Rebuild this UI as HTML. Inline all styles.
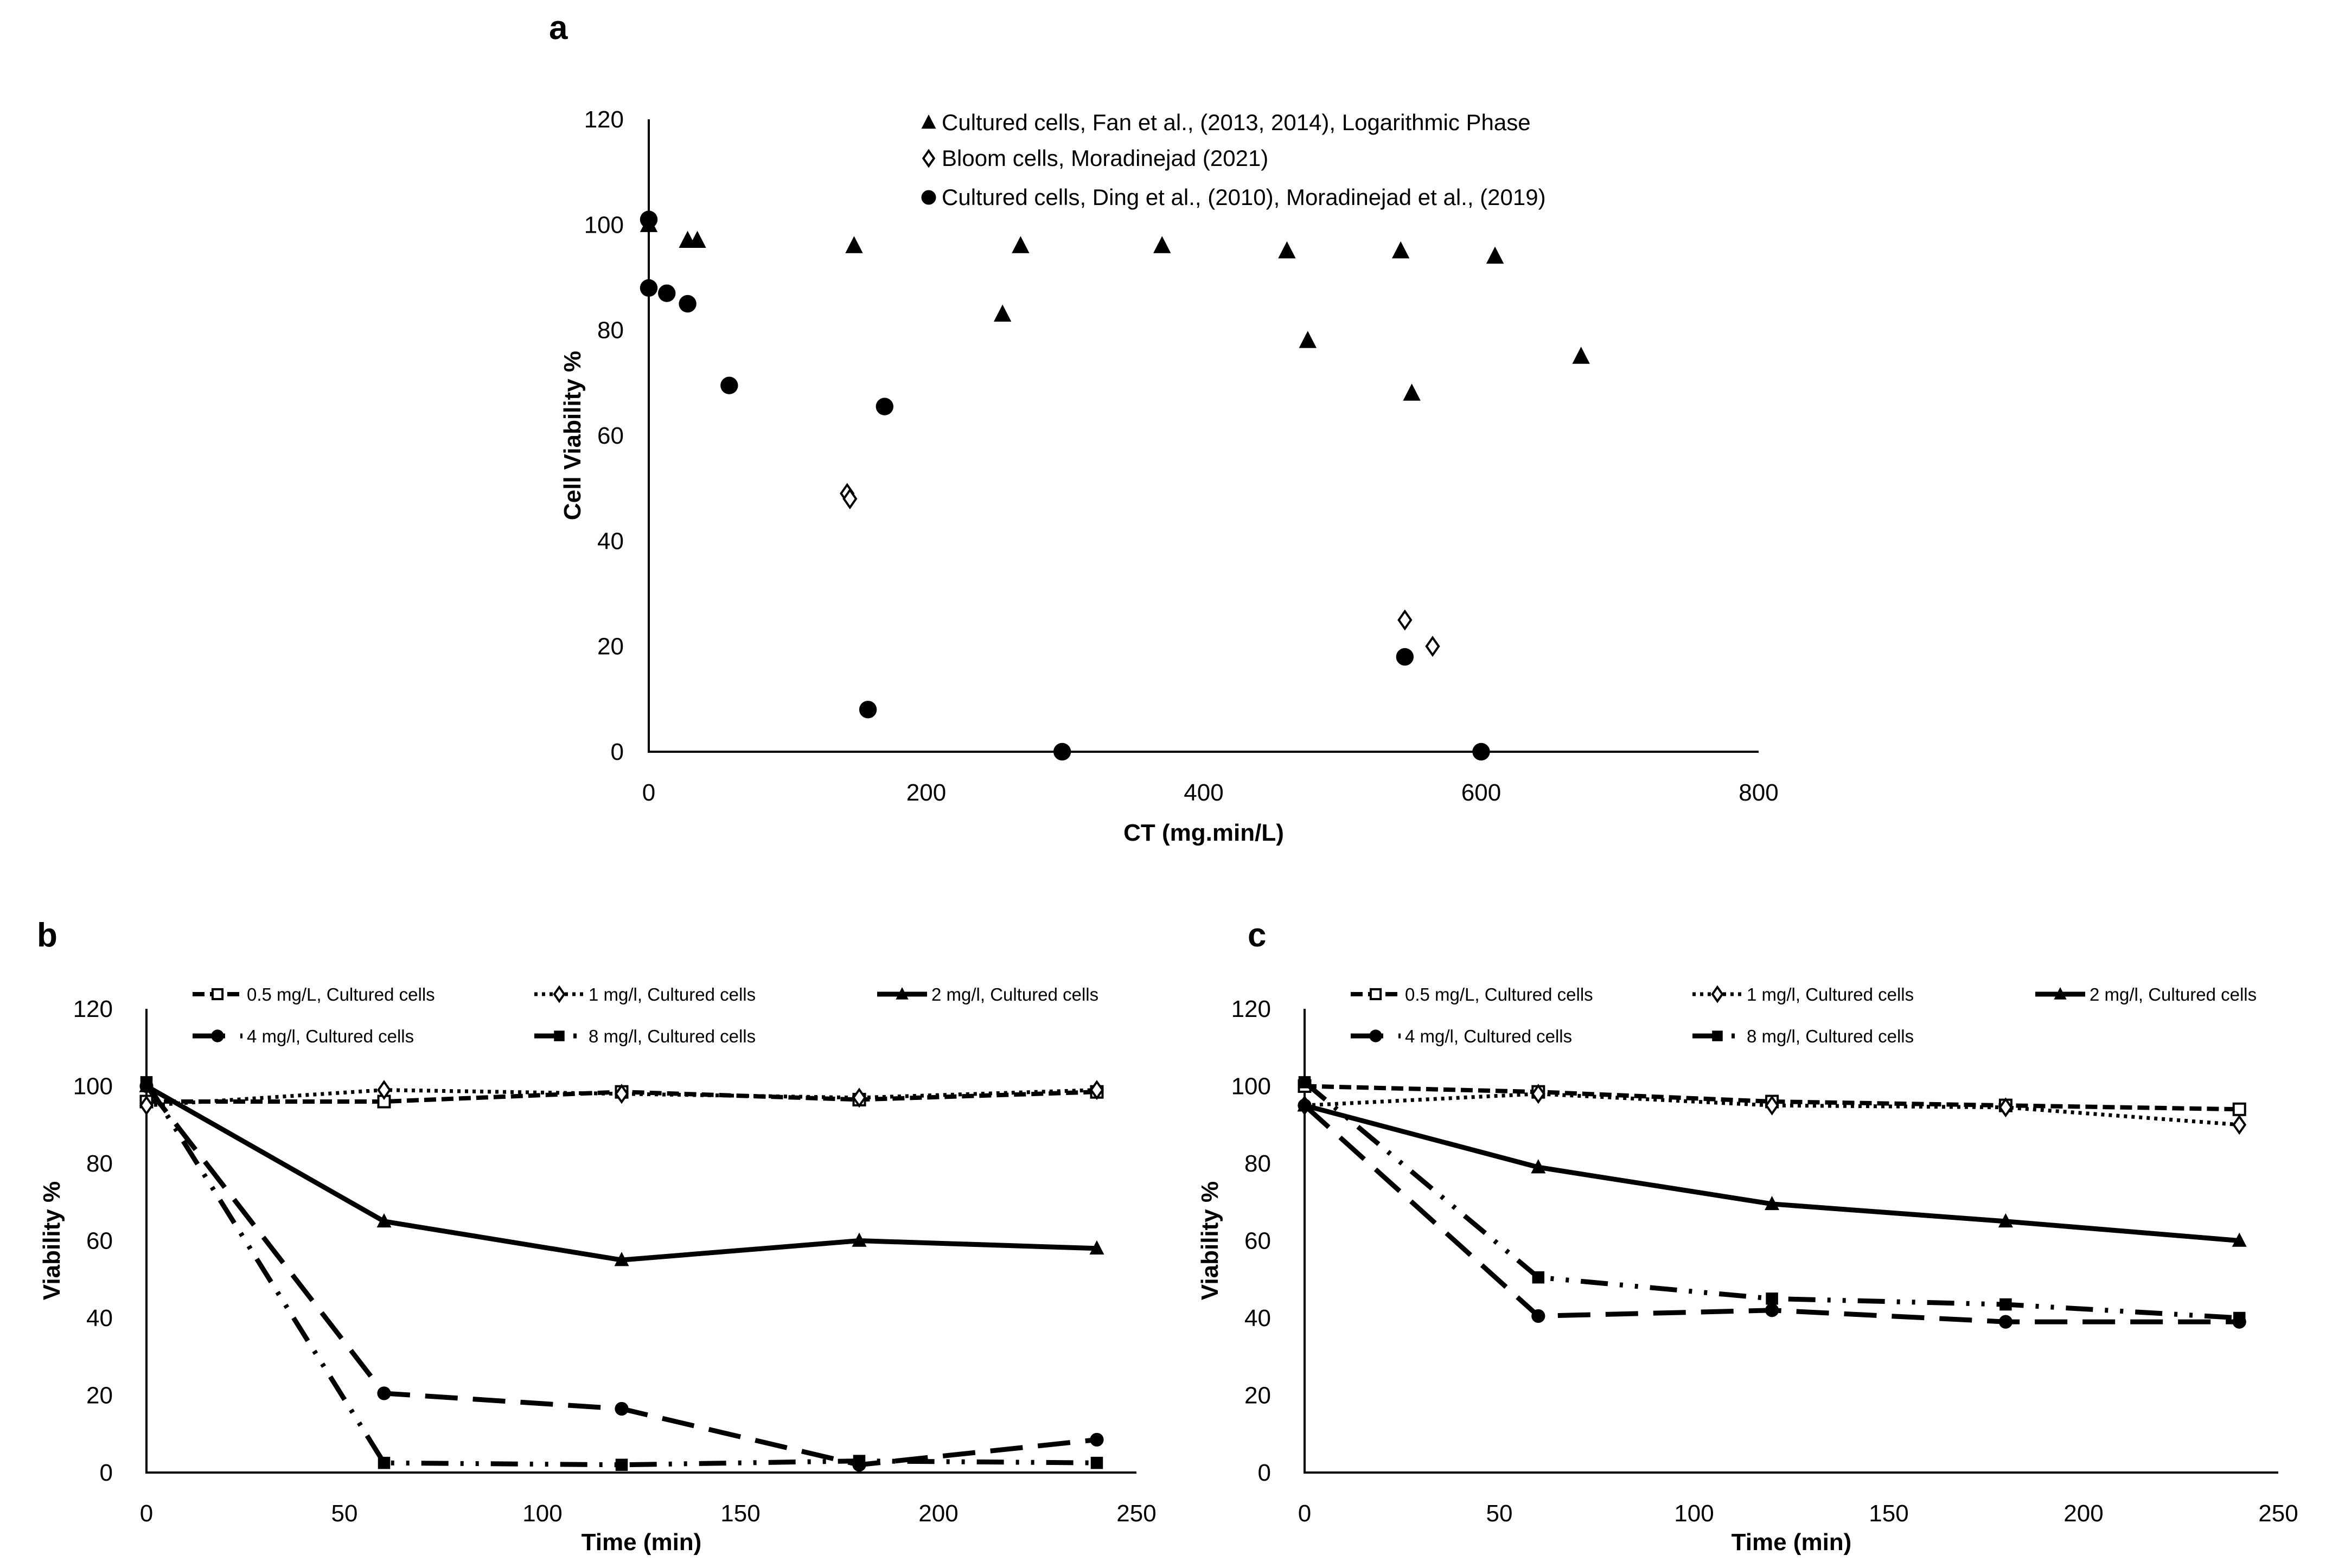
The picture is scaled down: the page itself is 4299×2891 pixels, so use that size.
<!DOCTYPE html>
<html><head><meta charset="utf-8"><style>
html,body{margin:0;padding:0;background:#fff}
svg{display:block}
text{font-family:"Liberation Sans",sans-serif;fill:#000}
.tk{font-size:44px}
.lg{font-size:42px}
.lg2{font-size:33px}
.ttl{font-size:44px;font-weight:bold}
.pl{font-size:62px;font-weight:bold}
</style></head><body>
<svg id="fig" width="4299" height="2891" viewBox="0 0 4299 2891" xmlns="http://www.w3.org/2000/svg"></svg>
<script>
// Panel a data
const triX=[0,28,35,148,255,268,370,460,475,542,550,610,672];
const triY=[100,97,97,96,83,96,96,95,78,95,68,94,75];
const diaX=[143,145,545,565];
const diaY=[49,48,25,20];
const cirX=[0,0,13,28,58,158,170,298,545,600];
const cirY=[101,88,87,85,69.5,8,65.5,0,18,0];
const aXTicks=[0,200,400,600,800];
const yTicks=[0,20,40,60,80,100,120];
// Panels b, c
const timeX=[0,60,120,180,240];
const tTicks=[0,50,100,150,200,250];
const seriesNames=["0.5 mg/L, Cultured cells","1 mg/l, Cultured cells","2 mg/l, Cultured cells","4 mg/l, Cultured cells","8 mg/l, Cultured cells"];
const b05=[96,96,98.5,96.5,98.5];
const b1=[95,99,98,97,99];
const b2=[100,65,55,60,58];
const b4=[100,20.5,16.5,2,8.5];
const b8=[101,2.5,2,3,2.5];
const c05=[100,98.5,96,95,94];
const c1=[95,98,95,94.5,90];
const c2=[95,79,69.5,65,60];
const c4=[95,40.5,42,39,39];
const c8=[101,50.5,45,43.5,40];

const NS="http://www.w3.org/2000/svg";
const svg=document.getElementById('fig');
function el(tag,attrs,parent,txt){const e=document.createElementNS(NS,tag);for(const k in attrs)e.setAttribute(k,attrs[k]);if(txt!==undefined)e.textContent=txt;(parent||svg).appendChild(e);return e;}

function marker(g,type,x,y,s){
  let m;
  if(type==='tri'){m=el('polygon',{points:`${x},${y-s} ${x-s*0.9},${y+s*0.75} ${x+s*0.9},${y+s*0.75}`,fill:'#000'},g);}
  else if(type==='dia'){m=el('polygon',{points:`${x},${y-s} ${x+s*0.7},${y} ${x},${y+s} ${x-s*0.7},${y}`,fill:'#fff',stroke:'#000','stroke-width':4},g);}
  else if(type==='cir'){m=el('circle',{cx:x,cy:y,r:s*0.9,fill:'#000'},g);}
  else if(type==='sqo'){m=el('rect',{x:x-s*0.7,y:y-s*0.7,width:s*1.4,height:s*1.4,fill:'#fff',stroke:'#000','stroke-width':4},g);}
  else if(type==='sqf'){m=el('rect',{x:x-s*0.75,y:y-s*0.75,width:s*1.5,height:s*1.5,fill:'#000'},g);}
  return m;
}

// ---------- Panel a ----------
(function(){
  const x0=1196,x1=3242,y0=1386,y1=220;
  const sx=v=>x0+(v/800)*(x1-x0), sy=v=>y0-(v/120)*(y0-y1);
  const g=el('g',{});
  
  
  const lab=el('text',{x:1012,y:72,class:'pl'},g,'a');
  
  const ax=el('path',{d:`M${x0},${y1} V${y0} H${x1}`,stroke:'#000','stroke-width':4,fill:'none'},g);
  
  yTicks.forEach(v=>{const t=el('text',{x:x0-46,y:sy(v)+15,class:'tk','text-anchor':'end'},g,v);
    });
  aXTicks.forEach(v=>{const t=el('text',{x:sx(v),y:y0+90,class:'tk','text-anchor':'middle'},g,v);
    });
  const xt=el('text',{x:(x0+x1)/2,y:1550,class:'ttl','text-anchor':'middle'},g,'CT (mg.min/L)');
  
  const yt=el('text',{x:0,y:0,class:'ttl','text-anchor':'middle',transform:`translate(1070,${(y0+y1)/2}) rotate(-90)`},g,'Cell Viability %');
  
  cirX.forEach((v,i)=>{const m=marker(g,'cir',sx(v),sy(cirY[i]),18);});
  triX.forEach((v,i)=>{const m=marker(g,'tri',sx(v),sy(triY[i]),18);});
  diaX.forEach((v,i)=>{const m=marker(g,'dia',sx(v),sy(diaY[i]),16);});
  const leg=[['tri','Cultured cells, Fan et al., (2013, 2014), Logarithmic Phase',226],['dia','Bloom cells, Moradinejad (2021)',292],['cir','Cultured cells, Ding et al., (2010), Moradinejad et al., (2019)',364]];
  leg.forEach(l=>{const lg=el('g',{},g);
    marker(lg,l[0],1712,l[2],l[0]==='dia'?14:15);el('text',{x:1736,y:l[2]+14,class:'lg'},lg,l[1]);});
})();

// ---------- Panels b / c ----------
const styles=[
  {dash:'22,10',w:8,m:'sqo'},
  {dash:'6,8',w:7,m:'dia'},
  {dash:'',w:9,m:'tri'},
  {dash:'60,28',w:9,m:'cir'},
  {dash:'50,22,6,22,6,22',w:9,m:'sqf'}
];
function panel(name,letter,lx,x0,x1,data){
  const y0=2715,y1=1860;
  const sx=v=>x0+(v/250)*(x1-x0), sy=v=>y0-(v/120)*(y0-y1);
  const g=el('g',{});
  
  
  const lab=el('text',{x:lx,y:1745,class:'pl'},g,letter);
  
  const ax=el('path',{d:`M${x0},${y1} V${y0} H${x1}`,stroke:'#000','stroke-width':4,fill:'none'},g);
  
  yTicks.forEach(v=>{const t=el('text',{x:x0-62,y:sy(v)+15,class:'tk','text-anchor':'end'},g,v);
    });
  tTicks.forEach(v=>{const t=el('text',{x:sx(v),y:y0+90,class:'tk','text-anchor':'middle'},g,v);
    });
  const xt=el('text',{x:(x0+x1)/2,y:2858,class:'ttl','text-anchor':'middle'},g,'Time (min)');
  
  const yt=el('text',{x:0,y:0,class:'ttl','text-anchor':'middle',transform:`translate(${x0-160},${(y0+y1)/2}) rotate(-90)`},g,'Viability %');
  
  data.forEach((ser,i)=>{
    const st=styles[i];
    const sg=el('g',{},g);
    
    
    const d=timeX.map((t,j)=>(j?'L':'M')+sx(t)+','+sy(ser[j])).join(' ');
    const p=el('path',{d:d,fill:'none',stroke:'#000','stroke-width':st.w,'stroke-dasharray':st.dash,'stroke-linejoin':'round'},sg);
    
    timeX.forEach((t,j)=>{const m=marker(sg,st.m,sx(t),sy(ser[j]),st.m==='cir'?14:15);});
  });
  const lpos=[[0,1833],[630,1833],[1262,1833],[0,1910],[630,1910]];
  const base=x0+85;
  seriesNames.forEach((n,i)=>{
    const st=styles[i];const lx2=base+lpos[i][0],ly=lpos[i][1];
    const lg=el('g',{},g);
    el('line',{x1:lx2,y1:ly,x2:lx2+92,y2:ly,stroke:'#000','stroke-width':st.w,'stroke-dasharray':st.dash},lg);
    marker(lg,st.m,lx2+46,ly,13);
    el('text',{x:lx2+100,y:ly+12,class:'lg2'},lg,n);
  });
}
panel('panel-b','b',68,270,2095,[b05,b1,b2,b4,b8]);
panel('panel-c','c',2300,2405,4200,[c05,c1,c2,c4,c8]);
</script>
</body></html>
